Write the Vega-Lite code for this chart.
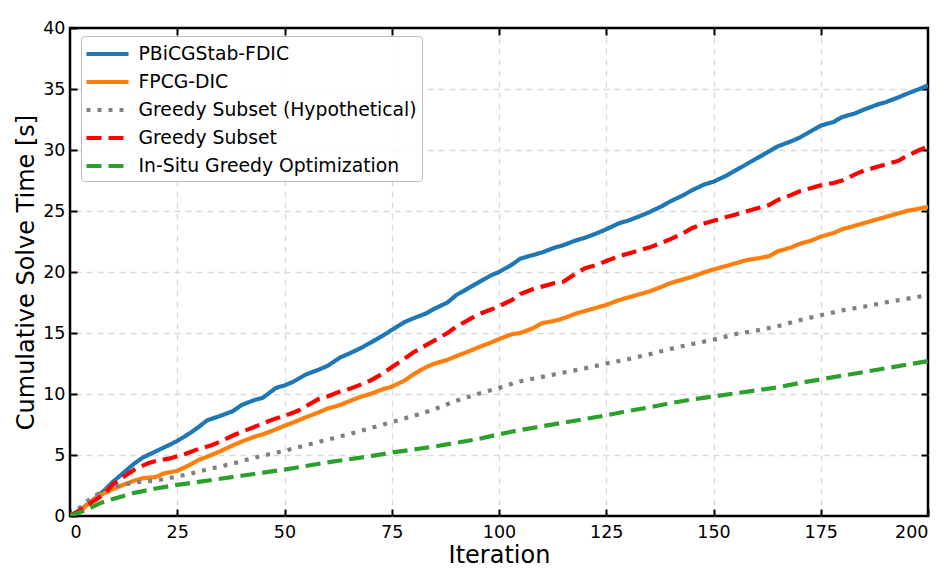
{
  "$schema": "https://vega.github.io/schema/vega-lite/v6.json",
  "width": 858,
  "height": 488,
  "autosize": {"type": "none"},
  "padding": {"left": 70, "top": 28, "right": 21, "bottom": 66},
  "background": "white",
  "config": {
    "font": "DejaVu Sans",
    "view": {"stroke": "black", "strokeWidth": 2.5},
    "axis": {
      "domain": false,
      "tickColor": "black",
      "tickWidth": 2,
      "tickSize": -7,
      "labelColor": "black",
      "labelFontSize": 17.5,
      "titleFontSize": 24,
      "titleFontWeight": "normal",
      "titleColor": "black",
      "gridColor": "#d9d9d9",
      "gridDash": [6, 5],
      "gridWidth": 1.3
    },
    "legend": {
      "orient": "none",
      "legendX": 11,
      "legendY": 8,
      "padding": 5,
      "rowPadding": 5,
      "labelFontSize": 18.8,
      "labelColor": "black",
      "labelOffset": 18,
      "labelLimit": 0,
      "symbolType": "M-2,0H2",
      "symbolSize": 441,
      "symbolOffset": 8.5,
      "symbolStrokeWidth": 4.2,
      "strokeColor": "#bbbbbb",
      "fillColor": "rgba(255,255,255,0.85)",
      "cornerRadius": 4,
      "title": null
    }
  },
  "data": {"values": [
    {"s":"PBiCGStab-FDIC","x":0,"y":0},{"s":"PBiCGStab-FDIC","x":2,"y":0.4},{"s":"PBiCGStab-FDIC","x":5,"y":1.2},{"s":"PBiCGStab-FDIC","x":8,"y":2.1},{"s":"PBiCGStab-FDIC","x":10,"y":2.8},{"s":"PBiCGStab-FDIC","x":12,"y":3.4},{"s":"PBiCGStab-FDIC","x":15,"y":4.3},{"s":"PBiCGStab-FDIC","x":17,"y":4.8},{"s":"PBiCGStab-FDIC","x":20,"y":5.3},{"s":"PBiCGStab-FDIC","x":23,"y":5.8},{"s":"PBiCGStab-FDIC","x":25,"y":6.15},{"s":"PBiCGStab-FDIC","x":28,"y":6.8},{"s":"PBiCGStab-FDIC","x":30,"y":7.3},{"s":"PBiCGStab-FDIC","x":32,"y":7.85},{"s":"PBiCGStab-FDIC","x":35,"y":8.2},{"s":"PBiCGStab-FDIC","x":38,"y":8.6},{"s":"PBiCGStab-FDIC","x":40,"y":9.1},{"s":"PBiCGStab-FDIC","x":43,"y":9.5},{"s":"PBiCGStab-FDIC","x":45,"y":9.7},{"s":"PBiCGStab-FDIC","x":48,"y":10.5},{"s":"PBiCGStab-FDIC","x":50,"y":10.7},{"s":"PBiCGStab-FDIC","x":52,"y":11.0},{"s":"PBiCGStab-FDIC","x":55,"y":11.6},{"s":"PBiCGStab-FDIC","x":58,"y":12.0},{"s":"PBiCGStab-FDIC","x":60,"y":12.3},{"s":"PBiCGStab-FDIC","x":63,"y":13.0},{"s":"PBiCGStab-FDIC","x":65,"y":13.3},{"s":"PBiCGStab-FDIC","x":68,"y":13.8},{"s":"PBiCGStab-FDIC","x":70,"y":14.2},{"s":"PBiCGStab-FDIC","x":73,"y":14.8},{"s":"PBiCGStab-FDIC","x":75,"y":15.25},{"s":"PBiCGStab-FDIC","x":78,"y":15.9},{"s":"PBiCGStab-FDIC","x":80,"y":16.2},{"s":"PBiCGStab-FDIC","x":83,"y":16.6},{"s":"PBiCGStab-FDIC","x":85,"y":17.0},{"s":"PBiCGStab-FDIC","x":88,"y":17.5},{"s":"PBiCGStab-FDIC","x":90,"y":18.1},{"s":"PBiCGStab-FDIC","x":93,"y":18.7},{"s":"PBiCGStab-FDIC","x":95,"y":19.1},{"s":"PBiCGStab-FDIC","x":98,"y":19.7},{"s":"PBiCGStab-FDIC","x":100,"y":20.0},{"s":"PBiCGStab-FDIC","x":103,"y":20.6},{"s":"PBiCGStab-FDIC","x":105,"y":21.1},{"s":"PBiCGStab-FDIC","x":108,"y":21.4},{"s":"PBiCGStab-FDIC","x":110,"y":21.6},{"s":"PBiCGStab-FDIC","x":113,"y":22.0},{"s":"PBiCGStab-FDIC","x":115,"y":22.2},{"s":"PBiCGStab-FDIC","x":118,"y":22.6},{"s":"PBiCGStab-FDIC","x":120,"y":22.8},{"s":"PBiCGStab-FDIC","x":123,"y":23.2},{"s":"PBiCGStab-FDIC","x":125,"y":23.5},{"s":"PBiCGStab-FDIC","x":128,"y":24.0},{"s":"PBiCGStab-FDIC","x":130,"y":24.2},{"s":"PBiCGStab-FDIC","x":133,"y":24.6},{"s":"PBiCGStab-FDIC","x":135,"y":24.9},{"s":"PBiCGStab-FDIC","x":138,"y":25.4},{"s":"PBiCGStab-FDIC","x":140,"y":25.8},{"s":"PBiCGStab-FDIC","x":143,"y":26.3},{"s":"PBiCGStab-FDIC","x":145,"y":26.7},{"s":"PBiCGStab-FDIC","x":148,"y":27.2},{"s":"PBiCGStab-FDIC","x":150,"y":27.4},{"s":"PBiCGStab-FDIC","x":153,"y":27.9},{"s":"PBiCGStab-FDIC","x":155,"y":28.3},{"s":"PBiCGStab-FDIC","x":158,"y":28.9},{"s":"PBiCGStab-FDIC","x":160,"y":29.3},{"s":"PBiCGStab-FDIC","x":163,"y":29.9},{"s":"PBiCGStab-FDIC","x":165,"y":30.3},{"s":"PBiCGStab-FDIC","x":168,"y":30.7},{"s":"PBiCGStab-FDIC","x":170,"y":31.0},{"s":"PBiCGStab-FDIC","x":173,"y":31.6},{"s":"PBiCGStab-FDIC","x":175,"y":32.0},{"s":"PBiCGStab-FDIC","x":178,"y":32.3},{"s":"PBiCGStab-FDIC","x":180,"y":32.7},{"s":"PBiCGStab-FDIC","x":183,"y":33.0},{"s":"PBiCGStab-FDIC","x":185,"y":33.3},{"s":"PBiCGStab-FDIC","x":188,"y":33.7},{"s":"PBiCGStab-FDIC","x":190,"y":33.9},{"s":"PBiCGStab-FDIC","x":193,"y":34.3},{"s":"PBiCGStab-FDIC","x":195,"y":34.6},{"s":"PBiCGStab-FDIC","x":198,"y":35.0},{"s":"PBiCGStab-FDIC","x":200,"y":35.3},
    {"s":"FPCG-DIC","x":0,"y":0},{"s":"FPCG-DIC","x":3,"y":0.6},{"s":"FPCG-DIC","x":5,"y":1.2},{"s":"FPCG-DIC","x":7,"y":1.7},{"s":"FPCG-DIC","x":10,"y":2.2},{"s":"FPCG-DIC","x":12,"y":2.5},{"s":"FPCG-DIC","x":15,"y":2.9},{"s":"FPCG-DIC","x":17,"y":3.1},{"s":"FPCG-DIC","x":20,"y":3.2},{"s":"FPCG-DIC","x":22,"y":3.5},{"s":"FPCG-DIC","x":25,"y":3.7},{"s":"FPCG-DIC","x":28,"y":4.2},{"s":"FPCG-DIC","x":30,"y":4.6},{"s":"FPCG-DIC","x":33,"y":5.0},{"s":"FPCG-DIC","x":35,"y":5.3},{"s":"FPCG-DIC","x":38,"y":5.8},{"s":"FPCG-DIC","x":40,"y":6.1},{"s":"FPCG-DIC","x":43,"y":6.5},{"s":"FPCG-DIC","x":45,"y":6.7},{"s":"FPCG-DIC","x":48,"y":7.1},{"s":"FPCG-DIC","x":50,"y":7.4},{"s":"FPCG-DIC","x":53,"y":7.8},{"s":"FPCG-DIC","x":55,"y":8.1},{"s":"FPCG-DIC","x":58,"y":8.5},{"s":"FPCG-DIC","x":60,"y":8.8},{"s":"FPCG-DIC","x":63,"y":9.1},{"s":"FPCG-DIC","x":65,"y":9.4},{"s":"FPCG-DIC","x":68,"y":9.8},{"s":"FPCG-DIC","x":70,"y":10.0},{"s":"FPCG-DIC","x":73,"y":10.4},{"s":"FPCG-DIC","x":75,"y":10.6},{"s":"FPCG-DIC","x":78,"y":11.1},{"s":"FPCG-DIC","x":80,"y":11.6},{"s":"FPCG-DIC","x":83,"y":12.2},{"s":"FPCG-DIC","x":85,"y":12.5},{"s":"FPCG-DIC","x":88,"y":12.8},{"s":"FPCG-DIC","x":90,"y":13.1},{"s":"FPCG-DIC","x":93,"y":13.5},{"s":"FPCG-DIC","x":95,"y":13.8},{"s":"FPCG-DIC","x":98,"y":14.2},{"s":"FPCG-DIC","x":100,"y":14.5},{"s":"FPCG-DIC","x":103,"y":14.9},{"s":"FPCG-DIC","x":105,"y":15.0},{"s":"FPCG-DIC","x":108,"y":15.4},{"s":"FPCG-DIC","x":110,"y":15.8},{"s":"FPCG-DIC","x":113,"y":16.0},{"s":"FPCG-DIC","x":115,"y":16.2},{"s":"FPCG-DIC","x":118,"y":16.6},{"s":"FPCG-DIC","x":120,"y":16.8},{"s":"FPCG-DIC","x":123,"y":17.1},{"s":"FPCG-DIC","x":125,"y":17.3},{"s":"FPCG-DIC","x":128,"y":17.7},{"s":"FPCG-DIC","x":130,"y":17.9},{"s":"FPCG-DIC","x":133,"y":18.2},{"s":"FPCG-DIC","x":135,"y":18.4},{"s":"FPCG-DIC","x":138,"y":18.8},{"s":"FPCG-DIC","x":140,"y":19.1},{"s":"FPCG-DIC","x":143,"y":19.4},{"s":"FPCG-DIC","x":145,"y":19.6},{"s":"FPCG-DIC","x":148,"y":20.0},{"s":"FPCG-DIC","x":150,"y":20.2},{"s":"FPCG-DIC","x":153,"y":20.5},{"s":"FPCG-DIC","x":155,"y":20.7},{"s":"FPCG-DIC","x":158,"y":21.0},{"s":"FPCG-DIC","x":160,"y":21.1},{"s":"FPCG-DIC","x":163,"y":21.3},{"s":"FPCG-DIC","x":165,"y":21.7},{"s":"FPCG-DIC","x":168,"y":22.0},{"s":"FPCG-DIC","x":170,"y":22.3},{"s":"FPCG-DIC","x":173,"y":22.6},{"s":"FPCG-DIC","x":175,"y":22.9},{"s":"FPCG-DIC","x":178,"y":23.2},{"s":"FPCG-DIC","x":180,"y":23.5},{"s":"FPCG-DIC","x":183,"y":23.8},{"s":"FPCG-DIC","x":185,"y":24.0},{"s":"FPCG-DIC","x":188,"y":24.3},{"s":"FPCG-DIC","x":190,"y":24.5},{"s":"FPCG-DIC","x":193,"y":24.8},{"s":"FPCG-DIC","x":195,"y":25.0},{"s":"FPCG-DIC","x":198,"y":25.2},{"s":"FPCG-DIC","x":200,"y":25.35},
    {"s":"Greedy Subset (Hypothetical)","x":0,"y":0},{"s":"Greedy Subset (Hypothetical)","x":3,"y":0.9},{"s":"Greedy Subset (Hypothetical)","x":5,"y":1.5},{"s":"Greedy Subset (Hypothetical)","x":8,"y":2.1},{"s":"Greedy Subset (Hypothetical)","x":10,"y":2.4},{"s":"Greedy Subset (Hypothetical)","x":13,"y":2.6},{"s":"Greedy Subset (Hypothetical)","x":15,"y":2.75},{"s":"Greedy Subset (Hypothetical)","x":18,"y":2.85},{"s":"Greedy Subset (Hypothetical)","x":20,"y":2.9},{"s":"Greedy Subset (Hypothetical)","x":23,"y":3.1},{"s":"Greedy Subset (Hypothetical)","x":25,"y":3.25},{"s":"Greedy Subset (Hypothetical)","x":28,"y":3.45},{"s":"Greedy Subset (Hypothetical)","x":30,"y":3.65},{"s":"Greedy Subset (Hypothetical)","x":33,"y":3.9},{"s":"Greedy Subset (Hypothetical)","x":35,"y":4.05},{"s":"Greedy Subset (Hypothetical)","x":38,"y":4.3},{"s":"Greedy Subset (Hypothetical)","x":40,"y":4.5},{"s":"Greedy Subset (Hypothetical)","x":45,"y":4.95},{"s":"Greedy Subset (Hypothetical)","x":50,"y":5.35},{"s":"Greedy Subset (Hypothetical)","x":55,"y":5.8},{"s":"Greedy Subset (Hypothetical)","x":60,"y":6.25},{"s":"Greedy Subset (Hypothetical)","x":65,"y":6.7},{"s":"Greedy Subset (Hypothetical)","x":70,"y":7.2},{"s":"Greedy Subset (Hypothetical)","x":75,"y":7.7},{"s":"Greedy Subset (Hypothetical)","x":80,"y":8.2},{"s":"Greedy Subset (Hypothetical)","x":85,"y":8.75},{"s":"Greedy Subset (Hypothetical)","x":90,"y":9.45},{"s":"Greedy Subset (Hypothetical)","x":95,"y":10.0},{"s":"Greedy Subset (Hypothetical)","x":100,"y":10.5},{"s":"Greedy Subset (Hypothetical)","x":105,"y":11.05},{"s":"Greedy Subset (Hypothetical)","x":110,"y":11.4},{"s":"Greedy Subset (Hypothetical)","x":115,"y":11.75},{"s":"Greedy Subset (Hypothetical)","x":120,"y":12.1},{"s":"Greedy Subset (Hypothetical)","x":125,"y":12.5},{"s":"Greedy Subset (Hypothetical)","x":130,"y":12.85},{"s":"Greedy Subset (Hypothetical)","x":135,"y":13.25},{"s":"Greedy Subset (Hypothetical)","x":140,"y":13.7},{"s":"Greedy Subset (Hypothetical)","x":145,"y":14.1},{"s":"Greedy Subset (Hypothetical)","x":150,"y":14.45},{"s":"Greedy Subset (Hypothetical)","x":155,"y":14.9},{"s":"Greedy Subset (Hypothetical)","x":160,"y":15.2},{"s":"Greedy Subset (Hypothetical)","x":165,"y":15.55},{"s":"Greedy Subset (Hypothetical)","x":170,"y":16.05},{"s":"Greedy Subset (Hypothetical)","x":175,"y":16.45},{"s":"Greedy Subset (Hypothetical)","x":180,"y":16.85},{"s":"Greedy Subset (Hypothetical)","x":185,"y":17.15},{"s":"Greedy Subset (Hypothetical)","x":190,"y":17.5},{"s":"Greedy Subset (Hypothetical)","x":195,"y":17.8},{"s":"Greedy Subset (Hypothetical)","x":200,"y":18.1},
    {"s":"Greedy Subset","x":0,"y":0},{"s":"Greedy Subset","x":3,"y":0.6},{"s":"Greedy Subset","x":5,"y":1.1},{"s":"Greedy Subset","x":8,"y":1.8},{"s":"Greedy Subset","x":10,"y":2.6},{"s":"Greedy Subset","x":12,"y":3.1},{"s":"Greedy Subset","x":15,"y":3.8},{"s":"Greedy Subset","x":18,"y":4.3},{"s":"Greedy Subset","x":20,"y":4.5},{"s":"Greedy Subset","x":23,"y":4.7},{"s":"Greedy Subset","x":25,"y":4.9},{"s":"Greedy Subset","x":27,"y":5.1},{"s":"Greedy Subset","x":30,"y":5.5},{"s":"Greedy Subset","x":33,"y":5.8},{"s":"Greedy Subset","x":35,"y":6.1},{"s":"Greedy Subset","x":38,"y":6.6},{"s":"Greedy Subset","x":40,"y":6.9},{"s":"Greedy Subset","x":43,"y":7.3},{"s":"Greedy Subset","x":45,"y":7.6},{"s":"Greedy Subset","x":48,"y":8.0},{"s":"Greedy Subset","x":50,"y":8.2},{"s":"Greedy Subset","x":53,"y":8.6},{"s":"Greedy Subset","x":55,"y":9.0},{"s":"Greedy Subset","x":58,"y":9.6},{"s":"Greedy Subset","x":60,"y":9.8},{"s":"Greedy Subset","x":63,"y":10.2},{"s":"Greedy Subset","x":65,"y":10.4},{"s":"Greedy Subset","x":68,"y":10.8},{"s":"Greedy Subset","x":70,"y":11.1},{"s":"Greedy Subset","x":73,"y":11.7},{"s":"Greedy Subset","x":75,"y":12.2},{"s":"Greedy Subset","x":78,"y":12.9},{"s":"Greedy Subset","x":80,"y":13.4},{"s":"Greedy Subset","x":83,"y":14.0},{"s":"Greedy Subset","x":85,"y":14.4},{"s":"Greedy Subset","x":88,"y":15.0},{"s":"Greedy Subset","x":90,"y":15.5},{"s":"Greedy Subset","x":93,"y":16.1},{"s":"Greedy Subset","x":95,"y":16.5},{"s":"Greedy Subset","x":98,"y":16.9},{"s":"Greedy Subset","x":100,"y":17.2},{"s":"Greedy Subset","x":103,"y":17.7},{"s":"Greedy Subset","x":105,"y":18.2},{"s":"Greedy Subset","x":108,"y":18.6},{"s":"Greedy Subset","x":110,"y":18.8},{"s":"Greedy Subset","x":113,"y":19.1},{"s":"Greedy Subset","x":115,"y":19.2},{"s":"Greedy Subset","x":118,"y":19.9},{"s":"Greedy Subset","x":120,"y":20.3},{"s":"Greedy Subset","x":123,"y":20.6},{"s":"Greedy Subset","x":125,"y":20.9},{"s":"Greedy Subset","x":128,"y":21.3},{"s":"Greedy Subset","x":130,"y":21.5},{"s":"Greedy Subset","x":133,"y":21.8},{"s":"Greedy Subset","x":135,"y":22.0},{"s":"Greedy Subset","x":138,"y":22.4},{"s":"Greedy Subset","x":140,"y":22.7},{"s":"Greedy Subset","x":143,"y":23.2},{"s":"Greedy Subset","x":145,"y":23.6},{"s":"Greedy Subset","x":148,"y":24.0},{"s":"Greedy Subset","x":150,"y":24.2},{"s":"Greedy Subset","x":153,"y":24.5},{"s":"Greedy Subset","x":155,"y":24.7},{"s":"Greedy Subset","x":158,"y":25.0},{"s":"Greedy Subset","x":160,"y":25.2},{"s":"Greedy Subset","x":163,"y":25.5},{"s":"Greedy Subset","x":165,"y":25.9},{"s":"Greedy Subset","x":168,"y":26.3},{"s":"Greedy Subset","x":170,"y":26.6},{"s":"Greedy Subset","x":173,"y":26.9},{"s":"Greedy Subset","x":175,"y":27.1},{"s":"Greedy Subset","x":178,"y":27.3},{"s":"Greedy Subset","x":180,"y":27.5},{"s":"Greedy Subset","x":183,"y":28.0},{"s":"Greedy Subset","x":185,"y":28.3},{"s":"Greedy Subset","x":188,"y":28.6},{"s":"Greedy Subset","x":190,"y":28.8},{"s":"Greedy Subset","x":193,"y":29.1},{"s":"Greedy Subset","x":195,"y":29.5},{"s":"Greedy Subset","x":198,"y":30.0},{"s":"Greedy Subset","x":200,"y":30.3},
    {"s":"In-Situ Greedy Optimization","x":0,"y":0},{"s":"In-Situ Greedy Optimization","x":3,"y":0.4},{"s":"In-Situ Greedy Optimization","x":5,"y":0.7},{"s":"In-Situ Greedy Optimization","x":7,"y":1.05},{"s":"In-Situ Greedy Optimization","x":10,"y":1.4},{"s":"In-Situ Greedy Optimization","x":15,"y":1.9},{"s":"In-Situ Greedy Optimization","x":20,"y":2.25},{"s":"In-Situ Greedy Optimization","x":25,"y":2.55},{"s":"In-Situ Greedy Optimization","x":30,"y":2.8},{"s":"In-Situ Greedy Optimization","x":35,"y":3.05},{"s":"In-Situ Greedy Optimization","x":40,"y":3.3},{"s":"In-Situ Greedy Optimization","x":45,"y":3.55},{"s":"In-Situ Greedy Optimization","x":50,"y":3.8},{"s":"In-Situ Greedy Optimization","x":55,"y":4.1},{"s":"In-Situ Greedy Optimization","x":60,"y":4.4},{"s":"In-Situ Greedy Optimization","x":65,"y":4.65},{"s":"In-Situ Greedy Optimization","x":70,"y":4.9},{"s":"In-Situ Greedy Optimization","x":75,"y":5.2},{"s":"In-Situ Greedy Optimization","x":80,"y":5.45},{"s":"In-Situ Greedy Optimization","x":85,"y":5.7},{"s":"In-Situ Greedy Optimization","x":90,"y":6.0},{"s":"In-Situ Greedy Optimization","x":95,"y":6.3},{"s":"In-Situ Greedy Optimization","x":100,"y":6.7},{"s":"In-Situ Greedy Optimization","x":105,"y":7.05},{"s":"In-Situ Greedy Optimization","x":110,"y":7.35},{"s":"In-Situ Greedy Optimization","x":115,"y":7.65},{"s":"In-Situ Greedy Optimization","x":120,"y":7.95},{"s":"In-Situ Greedy Optimization","x":125,"y":8.25},{"s":"In-Situ Greedy Optimization","x":130,"y":8.6},{"s":"In-Situ Greedy Optimization","x":135,"y":8.9},{"s":"In-Situ Greedy Optimization","x":140,"y":9.25},{"s":"In-Situ Greedy Optimization","x":145,"y":9.55},{"s":"In-Situ Greedy Optimization","x":150,"y":9.8},{"s":"In-Situ Greedy Optimization","x":155,"y":10.05},{"s":"In-Situ Greedy Optimization","x":160,"y":10.3},{"s":"In-Situ Greedy Optimization","x":165,"y":10.55},{"s":"In-Situ Greedy Optimization","x":170,"y":10.9},{"s":"In-Situ Greedy Optimization","x":175,"y":11.2},{"s":"In-Situ Greedy Optimization","x":180,"y":11.5},{"s":"In-Situ Greedy Optimization","x":185,"y":11.8},{"s":"In-Situ Greedy Optimization","x":190,"y":12.1},{"s":"In-Situ Greedy Optimization","x":195,"y":12.4},{"s":"In-Situ Greedy Optimization","x":200,"y":12.7}
  ]},
  "layer": [
    {
      "mark": {"type": "point", "opacity": 0},
      "encoding": {
        "x": {"field": "x", "type": "quantitative", "axis": {"orient": "top", "title": null, "labels": false, "grid": true, "values": [25,50,75,100,125,150,175]}},
        "y": {"field": "y", "type": "quantitative", "axis": {"orient": "right", "title": null, "labels": false, "grid": true, "values": [5,10,15,20,25,30,35]}}
      }
    },
    {
      "mark": {"type": "line", "strokeWidth": 4.2, "strokeCap": "butt", "strokeJoin": "round", "clip": true},
      "encoding": {
        "x": {"field": "x", "type": "quantitative", "scale": {"domain": [0, 200], "nice": false, "zero": false},
              "axis": {"orient": "bottom", "title": "Iteration", "values": [0,25,50,75,100,125,150,175,200], "labelPadding": 14, "titlePadding": 3, "grid": false}},
        "y": {"field": "y", "type": "quantitative", "scale": {"domain": [0, 40], "nice": false},
              "axis": {"orient": "left", "title": "Cumulative Solve Time [s]", "values": [0,5,10,15,20,25,30,35,40], "labelPadding": 12, "titlePadding": 4, "grid": false}},
        "color": {"field": "s", "type": "nominal", "title": null,
                  "legend": {"symbolType": "M-2,0H2"},
                  "scale": {"domain": ["PBiCGStab-FDIC","FPCG-DIC","Greedy Subset (Hypothetical)","Greedy Subset","In-Situ Greedy Optimization"],
                            "range": ["#1f77b4","#ff7f0e","#808080","#ff0000","#2ca02c"]}},
        "strokeDash": {"field": "s", "type": "nominal", "title": null,
                  "legend": {"symbolType": "M-2,0H2"},
                  "scale": {"domain": ["PBiCGStab-FDIC","FPCG-DIC","Greedy Subset (Hypothetical)","Greedy Subset","In-Situ Greedy Optimization"],
                            "range": [[1,0],[1,0],[4,7],[15,7],[15,7]]}}
      }
    }
  ],
  "resolve": {"axis": {"x": "independent", "y": "independent"}}
}
